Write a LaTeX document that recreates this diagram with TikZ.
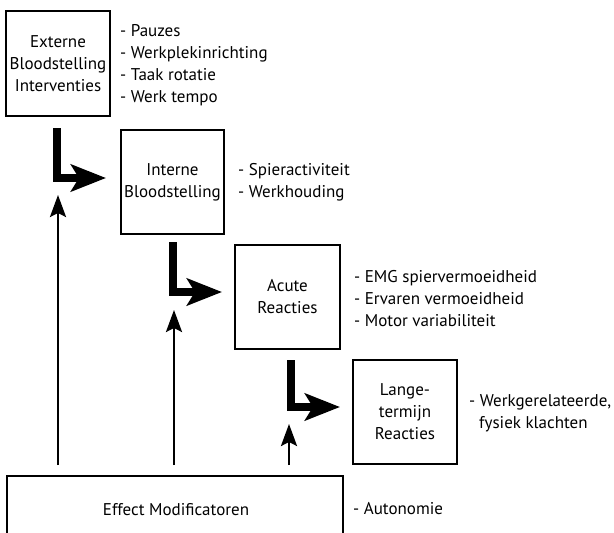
\documentclass[tikz,border=0pt]{standalone}
\usepackage{fontspec}
\setmainfont{PT Sans}
\usetikzlibrary{arrows.meta,positioning}
\begin{document}
\begin{tikzpicture}[x=1pt,y=-1pt,
  box/.style={draw, line width=2pt, inner sep=0pt, align=center,
    font=\fontsize{17}{22}\selectfont},
  list/.style={inner sep=0pt, align=left, anchor=west,
    font=\fontsize{17}{22}\selectfont},
  bigarrow/.style={line width=8pt, -{Stealth[length=35pt, width=27pt, inset=8pt]}},
  thinarrow/.style={line width=2.6pt, -{Stealth[length=22pt, width=16pt, inset=4pt]}}
]
\useasboundingbox (0,0) rectangle (614,533);
% boxes
\node[box, minimum width=104pt, minimum height=105pt] (b1) at (58,63.5)
  {Externe\\Bloodstelling\\Interventies};
\node[box, minimum width=103pt, minimum height=104pt] (b2) at (172.5,182)
  {Interne\\Bloodstelling};
\node[box, minimum width=105pt, minimum height=104pt] (b3) at (287.5,297)
  {Acute\\Reacties};
\node[box, minimum width=104pt, minimum height=104pt] (b4) at (405,412)
  {Lange-\\termijn\\Reacties};
\node[box, minimum width=336pt, minimum height=120pt, anchor=north] (b5) at (175,475) {};
\node[list, anchor=center] (t5) at (176,510) {Effect Modificatoren};
% lists
\node[list, right=9pt of b1, yshift=-2pt] (l1)
  {- Pauzes\\- Werkplekinrichting\\- Taak rotatie\\- Werk tempo};
\node[list, right=13pt of b2] (l2) {- Spieractiviteit\\- Werkhouding};
\node[list, right=13pt of b3, yshift=-2pt] (l3)
  {- EMG spiervermoeidheid\\- Ervaren vermoeidheid\\- Motor variabiliteit};
\node[list, right=11pt of b4, yshift=-1pt] (l4)
  {- Werkgerelateerde,\\\hspace{10pt}fysiek klachten};
\node[list] (l5) at (353,509) {- Autonomie};
% L-shaped arrows
\coordinate (s1) at (57,128);
\coordinate (s2) at (173,242);
\coordinate (s3) at (291,360);
\draw[bigarrow] (s1) |- ([xshift=-14pt,yshift=4pt]b2.west);
\draw[bigarrow] (s2) |- ([xshift=-12pt,yshift=5pt]b3.west);
\draw[bigarrow] (s3) |- ([xshift=-12pt,yshift=5pt]b4.west);
% modifier arrows
\coordinate (e1) at (58,195);
\coordinate (e2) at (174,310);
\coordinate (e3) at (289,424);
\draw[thinarrow] ([yshift=10pt]b5.north -| e1) -- (e1);
\draw[thinarrow] ([yshift=10pt]b5.north -| e2) -- (e2);
\draw[thinarrow] ([yshift=10pt]b5.north -| e3) -- (e3);
\end{tikzpicture}
\end{document}
